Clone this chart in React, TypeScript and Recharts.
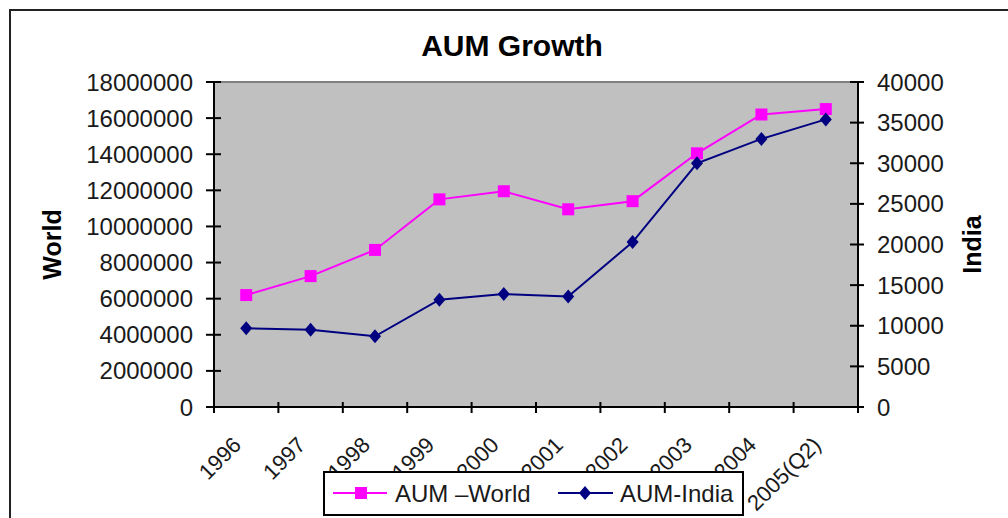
import React from 'react';
import { LineChart, Line, XAxis, YAxis, CartesianGrid, ReferenceLine } from 'recharts';

const years = ['1996', '1997', '1998', '1999', '2000', '2001', '2002', '2003', '2004', '2005(Q2)'];
const aumWorld = [6200000, 7250000, 8700000, 11500000, 11950000, 10950000, 11400000, 14050000, 16200000, 16500000];
const aumIndia = [9700, 9500, 8700, 13200, 13900, 13600, 20300, 30000, 33000, 35400];
const worldTicks = [0, 2000000, 4000000, 6000000, 8000000, 10000000, 12000000, 14000000, 16000000, 18000000];
const indiaTicks = [0, 5000, 10000, 15000, 20000, 25000, 30000, 35000, 40000];

const data = years.map((year, i) => ({ year, world: aumWorld[i], india: aumIndia[i] }));

const FONT = '"Liberation Sans", Arial, sans-serif';
const W = 1008;
const H = 518;
const LEFT_W = 214;
const RIGHT_W = 150;
const TOP = 82;
const X_H = 111;
const HALF_BAND = (W - LEFT_W - RIGHT_W) / years.length / 2;

const LeftTick = (props: any) => {
    const { x, y, payload } = props;
    return (
        <g>
            <line x1={x - 8} x2={x + 7} y1={y} y2={y} stroke="#000" strokeWidth={2} />
            <text x={x - 21} y={y} textAnchor="end" dominantBaseline="central" fontSize={24} fontFamily={FONT} fill="#1a1a1a">
                {payload.value}
            </text>
        </g>
    );
};

const RightTick = (props: any) => {
    const { x, y, payload } = props;
    return (
        <g>
            <line x1={x - 8} x2={x + 6} y1={y} y2={y} stroke="#000" strokeWidth={2} />
            <text x={x + 19} y={y} textAnchor="start" dominantBaseline="central" fontSize={24} fontFamily={FONT} fill="#1a1a1a">
                {payload.value}
            </text>
        </g>
    );
};

const BottomTick = (props: any) => {
    const { x, y, payload, index } = props;
    const tx = x - 9;
    const ty = y + 34;
    return (
        <g>
            <line x1={x - HALF_BAND} x2={x - HALF_BAND} y1={y - 5} y2={y + 6} stroke="#000" strokeWidth={2} />
            {index === years.length - 1 && (
                <line x1={x + HALF_BAND} x2={x + HALF_BAND} y1={y - 5} y2={y + 6} stroke="#000" strokeWidth={2} />
            )}
            <text
                x={tx}
                y={ty}
                transform={`rotate(-45 ${tx} ${ty})`}
                textAnchor="end"
                dominantBaseline="central"
                fontSize={22}
                fontFamily={FONT}
                fill="#1a1a1a"
            >
                {payload.value}
            </text>
        </g>
    );
};

const SquareDot = (props: any) => {
    const { cx, cy, index } = props;
    return <rect key={`s${index}`} x={cx - 6} y={cy - 6} width={12} height={12} fill="#ff00ff" />;
};

const DiamondDot = (props: any) => {
    const { cx, cy, index } = props;
    return (
        <path
            key={`d${index}`}
            d={`M${cx},${cy - 7} L${cx + 6},${cy} L${cx},${cy + 7} L${cx - 6},${cy} Z`}
            fill="#000080"
        />
    );
};

const axisTitle = (text: string, dx: number) => (p: any) => {
    const vb = p.viewBox;
    const cx = vb.x + dx;
    const cy = vb.y + vb.height / 2;
    return (
        <text
            x={cx}
            y={cy}
            transform={`rotate(-90 ${cx} ${cy})`}
            textAnchor="middle"
            dominantBaseline="central"
            fontSize={25}
            fontWeight="bold"
            fontFamily={FONT}
            fill="#000"
        >
            {text}
        </text>
    );
};

const Legend = () => (
    <div
        style={{
            position: 'absolute',
            left: 323,
            top: 471,
            width: 417,
            height: 41,
            border: '2px solid #000',
            background: '#fff',
            fontFamily: FONT,
            fontSize: 24,
            color: '#1a1a1a',
        }}
    >
        <svg width={417} height={41} style={{ position: 'absolute', left: 0, top: 0 }}>
            <line x1={8} x2={62} y1={20} y2={20} stroke="#ff00ff" strokeWidth={2} />
            <rect x={30} y={14} width={12} height={12} fill="#ff00ff" />
            <line x1={233} x2={288} y1={20} y2={20} stroke="#000080" strokeWidth={2} />
            <path d="M260,13 L266,20 L260,27 L254,20 Z" fill="#000080" />
            <text x={70} y={20} dominantBaseline="central" fontSize={24} fontFamily={FONT} fill="#1a1a1a">
                AUM –World
            </text>
            <text x={295} y={20} dominantBaseline="central" fontSize={24} fontFamily={FONT} fill="#1a1a1a">
                AUM-India
            </text>
        </svg>
    </div>
);

export default function App() {
    return (
        <div style={{ position: 'absolute', left: 0, top: 0, width: W, height: H, overflow: 'hidden', background: '#fff' }}>
            <div
                style={{
                    position: 'absolute',
                    left: 9,
                    top: 9,
                    width: W + 20,
                    height: H + 20,
                    borderTop: '2px solid #222',
                    borderLeft: '2px solid #222',
                }}
            />
            <div
                style={{
                    position: 'absolute',
                    left: 0,
                    width: 1024,
                    top: 28,
                    textAlign: 'center',
                    fontFamily: FONT,
                    fontSize: 30,
                    fontWeight: 'bold',
                    lineHeight: '36px',
                    color: '#000',
                }}
            >
                AUM Growth
            </div>
            <div style={{ position: 'absolute', left: 0, top: 0 }}>
                <LineChart width={W} height={H} data={data} margin={{ top: TOP, right: 0, bottom: 0, left: 0 }}>
                    <CartesianGrid fill="#c0c0c0" horizontal={false} vertical={false} yAxisId="left" />
                    <XAxis
                        dataKey="year"
                        height={X_H}
                        padding={{ left: HALF_BAND, right: HALF_BAND }}
                        interval={0}
                        tickSize={0}
                        tickMargin={0}
                        tickLine={false}
                        axisLine={{ stroke: '#000', strokeWidth: 2 }}
                        tick={<BottomTick />}
                    />
                    <YAxis
                        yAxisId="left"
                        width={LEFT_W}
                        domain={[0, 18000000]}
                        ticks={worldTicks}
                        interval={0}
                        tickSize={0}
                        tickMargin={0}
                        tickLine={false}
                        axisLine={{ stroke: '#000', strokeWidth: 2 }}
                        tick={<LeftTick />}
                        label={{ content: axisTitle('World', 52) }}
                    />
                    <YAxis
                        yAxisId="right"
                        orientation="right"
                        width={RIGHT_W}
                        domain={[0, 40000]}
                        ticks={indiaTicks}
                        interval={0}
                        tickSize={0}
                        tickMargin={0}
                        tickLine={false}
                        axisLine={{ stroke: '#000', strokeWidth: 2 }}
                        tick={<RightTick />}
                        label={{ content: axisTitle('India', 114) }}
                    />
                    <ReferenceLine yAxisId="left" y={18000000} stroke="#808080" strokeWidth={2} />
                    <Line
                        yAxisId="left"
                        dataKey="world"
                        stroke="#ff00ff"
                        strokeWidth={2}
                        dot={SquareDot}
                        activeDot={false}
                        isAnimationActive={false}
                    />
                    <Line
                        yAxisId="right"
                        dataKey="india"
                        stroke="#000080"
                        strokeWidth={2}
                        dot={DiamondDot}
                        activeDot={false}
                        isAnimationActive={false}
                    />
                </LineChart>
            </div>
            <Legend />
        </div>
    );
}
